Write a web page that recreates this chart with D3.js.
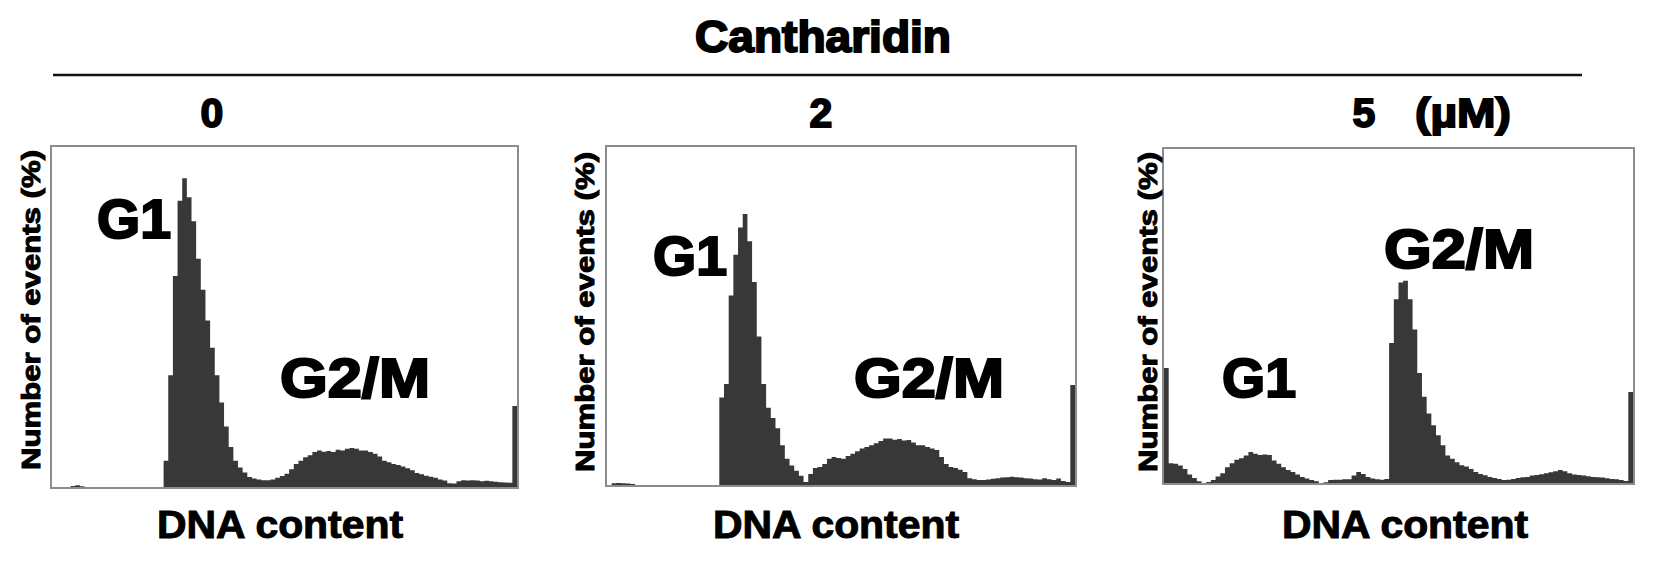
<!DOCTYPE html>
<html>
<head>
<meta charset="utf-8">
<script src="https://cdn.jsdelivr.net/npm/d3@7"></script>
<style>
  html, body { margin: 0; padding: 0; background: #fff; }
  svg { display: block; }
  text { font-family: "Liberation Sans", Arial, sans-serif; font-weight: bold; fill: #000; }
</style>
</head>
<body>
<svg id="chart"></svg>
<script>
const treatment = 'Cantharidin';
const doses = ['0', '2', '5'];
const doseUnit = '(µM)';
const xLabel = 'DNA content';
const yLabel = 'Number of events (%)';
const phaseNames = ['G1', 'G2/M'];

// events per DNA-content channel (100 channels), as % of plot height
const dose0Counts = [
  0, 0, 0, 0, 0.6, 0.8, 0.5, 0, 0, 0,
  0, 0, 0, 0, 0, 0, 0, 0, 0, 0,
  0, 0, 0, 0, 8, 33, 62, 84, 90.6, 85,
  78, 67, 58, 49, 41, 33, 25, 18, 12, 8,
  6, 4.5, 3.2, 2.8, 2.5, 2.3, 2.3, 2.5, 3, 3.5,
  4.2, 5.5, 7, 8, 9, 9.6, 10.5, 11, 10.6, 10.8,
  10.5, 11.2, 11, 11.5, 11.7, 11.5, 11, 11, 10.5, 10,
  9.2, 8, 7.5, 7, 6.7, 6.3, 5.8, 5.2, 4.4, 4,
  3.6, 3.3, 3, 2.5, 2.2, 1.4, 1.3, 2, 2.3, 2.2,
  2.3, 2.2, 2, 2.1, 2, 1.8, 1.7, 1.6, 1.5, 24
];
const dose2Counts = [
  0, 0.8, 0.9, 0.8, 0.7, 0.6, 0, 0, 0, 0,
  0, 0, 0, 0, 0, 0, 0, 0, 0, 0,
  0, 0, 0, 0, 26, 30, 56, 68, 76, 80,
  72, 60, 44, 30, 23, 20, 17, 12, 8, 6,
  4.5, 3, 1.2, 3.5, 5.3, 5.6, 6.5, 8, 8.5, 8.2,
  8, 8.8, 9.5, 10.2, 11, 11.5, 12, 12.6, 13.2, 14,
  14, 13.6, 13.8, 13.4, 13.5, 12.8, 12, 12, 11.5, 11,
  10.6, 8.5, 6.5, 5.6, 5.3, 4.8, 4.1, 2.3, 2, 1.8,
  1.8, 1.9, 2.1, 2.3, 2.5, 2.6, 2.7, 2.6, 2.5, 2.3,
  2.2, 2, 1.9, 2.3, 2, 1.8, 2.2, 1.5, 1.2, 29.7
];
const dose5Counts = [
  34.5, 6.2, 6, 5.5, 4.5, 2.8, 1.8, 0.8, 0.3, 0.6,
  1.2, 2.2, 3.2, 5, 6.2, 7.2, 7.7, 8.5, 9.5, 9,
  8.6, 8.8, 8.6, 7, 6, 5, 4.2, 3.6, 2.8, 2.1,
  1.6, 1.2, 0.8, 0.3, 0.5, 1.2, 1.3, 1.3, 1.4, 1.4,
  2.5, 3.6, 3, 2.1, 1.6, 1.4, 1.3, 1.5, 42, 55,
  60, 60.5, 55, 46, 33, 26, 21, 17.5, 14.5, 11.5,
  8.5, 7.5, 6.5, 5.6, 5.2, 4.5, 3.6, 3, 2.6, 2.1,
  1.8, 1.5, 1.2, 1.3, 1.5, 1.8, 2, 2.1, 2.5, 2.7,
  2.9, 3.2, 3.5, 3.8, 4.2, 3.8, 3.2, 2.8, 2.7, 2.5,
  2.3, 2.1, 2, 1.9, 1.7, 1.5, 1.4, 1.2, 0.9, 27.4
];
const panelCounts = [dose0Counts, dose2Counts, dose5Counts];

// page layout
const width = 1654;
const height = 573;
const panels = [
  { left: 51, top: 146, w: 467, h: 342, yLabelX: 40, yLabelY: 310, xLabelX: 280, doseX: 212,
    g1: [97, 238], g2m: [280, 397] },
  { left: 606, top: 146, w: 470, h: 340, yLabelX: 594, yLabelY: 312, xLabelX: 836, doseX: 821,
    g1: [653, 275], g2m: [854, 397] },
  { left: 1163, top: 148, w: 471, h: 336, yLabelX: 1157, yLabelY: 312, xLabelX: 1405, doseX: 1364,
    g1: [1222, 397], g2m: [1384, 268] }
];

const svg = d3.select('#chart')
  .attr('width', width)
  .attr('height', height);

svg.append('rect')
  .attr('width', width)
  .attr('height', height)
  .attr('fill', '#fff');

// header
svg.append('text')
  .attr('x', 823)
  .attr('y', 52)
  .attr('text-anchor', 'middle')
  .attr('font-size', 44)
  .attr('textLength', 256)
  .attr('lengthAdjust', 'spacingAndGlyphs')
  .attr('stroke', '#000')
  .attr('stroke-width', 2)
  .text(treatment);

svg.append('line')
  .attr('x1', 53)
  .attr('x2', 1582)
  .attr('y1', 75)
  .attr('y2', 75)
  .attr('stroke', '#111')
  .attr('stroke-width', 2.5);

panels.forEach((p, i) => {
  svg.append('text')
    .attr('x', p.doseX)
    .attr('y', 127)
    .attr('text-anchor', 'middle')
    .attr('font-size', 41)
    .attr('stroke', '#000')
    .attr('stroke-width', 1.8)
    .text(doses[i]);
});

svg.append('text')
  .attr('x', 1415)
  .attr('y', 127)
  .attr('font-size', 41)
  .attr('textLength', 96)
  .attr('lengthAdjust', 'spacingAndGlyphs')
  .attr('stroke', '#000')
  .attr('stroke-width', 1.8)
  .text(doseUnit);

// histograms
panels.forEach((p, i) => {
  const counts = panelCounts[i];
  const x = d3.scaleLinear().domain([0, counts.length]).range([p.left + 1, p.left + p.w - 1]);
  const y = d3.scaleLinear().domain([0, 100]).range([p.top + p.h, p.top]);

  const g = svg.append('g').attr('class', 'panel');

  const pts = counts.map((v, k) => [k, v]).concat([[counts.length, counts[counts.length - 1]]]);
  const area = d3.area()
    .x(d => x(d[0]))
    .y0(y(0))
    .y1(d => y(d[1]))
    .curve(d3.curveStepAfter);

  g.append('path')
    .datum(pts)
    .attr('d', area)
    .attr('fill', '#383838');

  g.append('rect')
    .attr('x', p.left)
    .attr('y', p.top)
    .attr('width', p.w)
    .attr('height', p.h)
    .attr('fill', 'none')
    .attr('stroke', '#8c8c8c')
    .attr('stroke-width', 2);

  // axis titles
  g.append('text')
    .attr('transform', `translate(${p.yLabelX},${p.yLabelY}) rotate(-90)`)
    .attr('text-anchor', 'middle')
    .attr('font-size', 26)
    .attr('textLength', 320)
    .attr('lengthAdjust', 'spacingAndGlyphs')
    .attr('stroke', '#000')
    .attr('stroke-width', 1)
    .text(yLabel);

  g.append('text')
    .attr('x', p.xLabelX)
    .attr('y', 538)
    .attr('text-anchor', 'middle')
    .attr('font-size', 38)
    .attr('textLength', 246)
    .attr('lengthAdjust', 'spacingAndGlyphs')
    .attr('stroke', '#000')
    .attr('stroke-width', 1)
    .text(xLabel);

  // phase labels
  g.append('text')
    .attr('x', p.g1[0])
    .attr('y', p.g1[1])
    .attr('font-size', 56)
    .attr('textLength', 74)
    .attr('lengthAdjust', 'spacingAndGlyphs')
    .attr('stroke', '#000')
    .attr('stroke-width', 2.2)
    .text(phaseNames[0]);

  g.append('text')
    .attr('x', p.g2m[0])
    .attr('y', p.g2m[1])
    .attr('font-size', 56)
    .attr('textLength', 150)
    .attr('lengthAdjust', 'spacingAndGlyphs')
    .attr('stroke', '#000')
    .attr('stroke-width', 2.2)
    .text(phaseNames[1]);
});
</script>
</body>
</html>
